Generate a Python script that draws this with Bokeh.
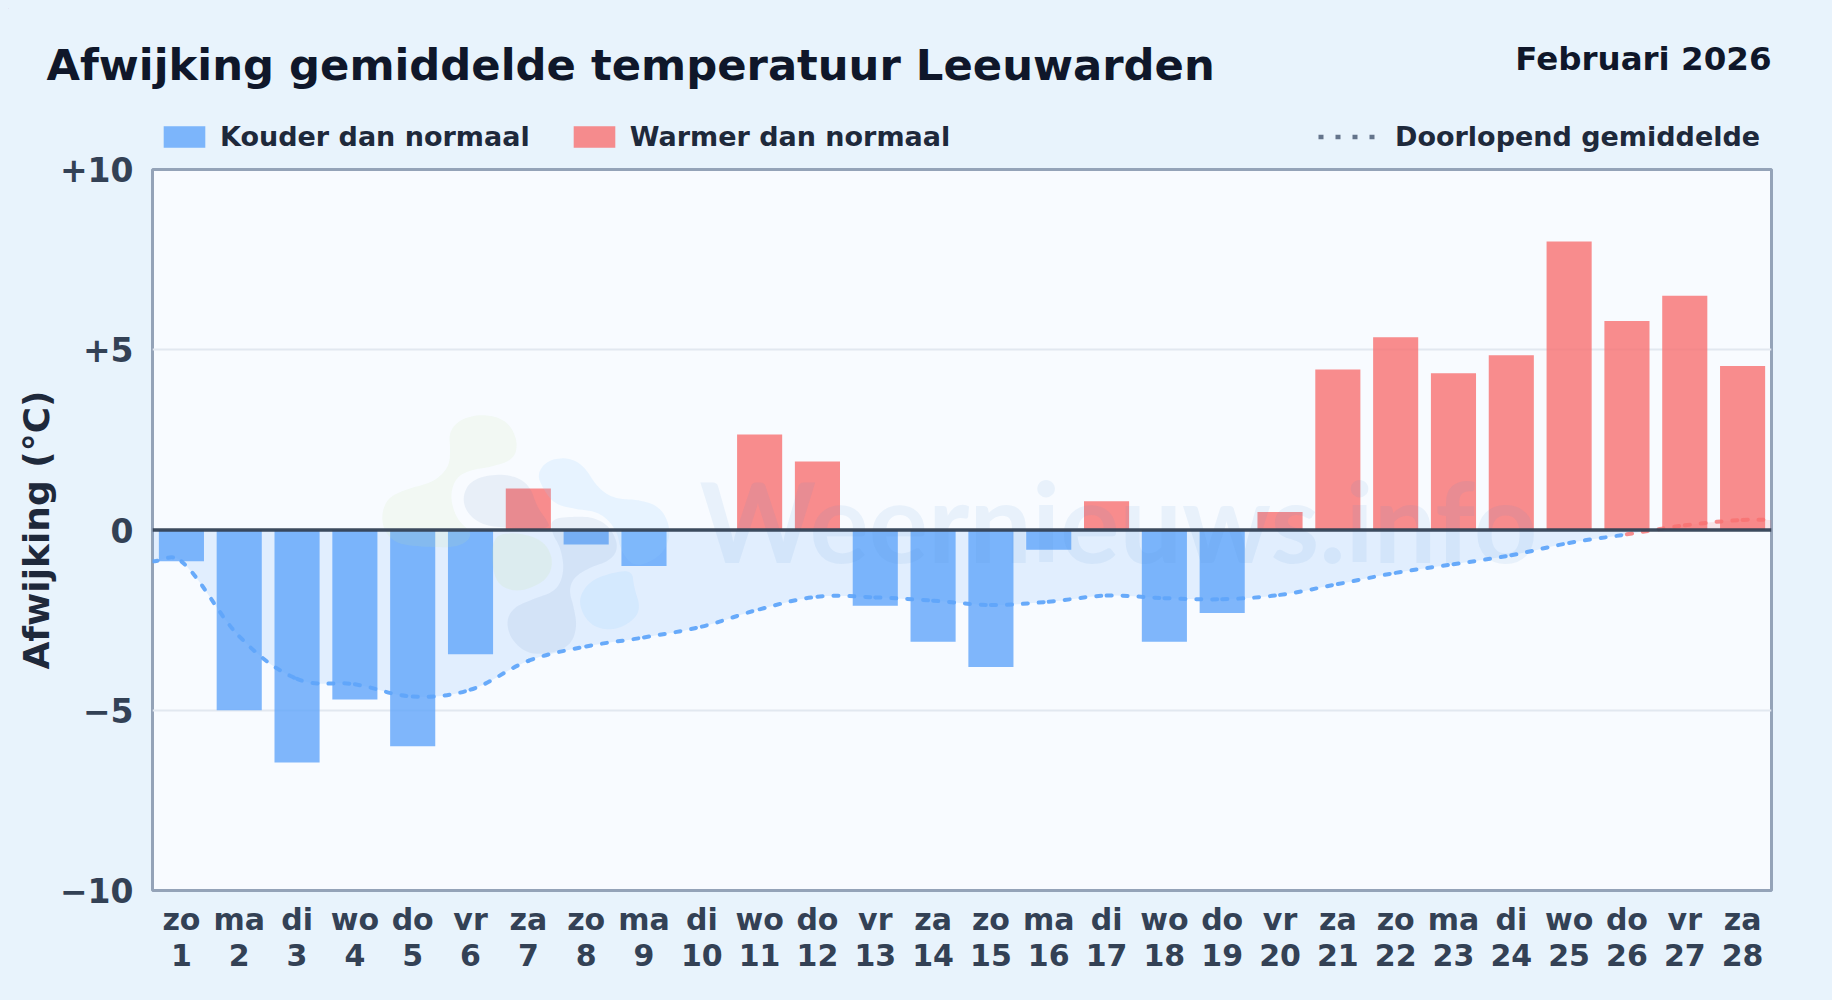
import numpy as np
from bokeh.embed import file_html
from bokeh.layouts import column
from bokeh.resources import INLINE
from bokeh.plotting import figure
from bokeh.models import (ColumnDataSource, FixedTicker, Legend, LegendItem, Range1d, Span)
from bokeh.core.properties import value

# ---- data
days = list(range(1, 29))
weekdays = ["zo","ma","di","wo","do","vr","za","zo","ma","di","wo","do","vr","za","zo","ma","di","wo","do","vr","za","zo","ma","di","wo","do","vr","za"]
deviation = [-0.87,-5.0,-6.45,-4.7,-6.0,-3.45,1.15,-0.4,-1.0,0.0,2.65,1.9,-2.1,-3.1,-3.8,-0.55,0.8,-3.1,-2.3,0.5,4.45,5.35,4.35,4.85,8.0,5.8,6.5,4.55]
running_mean = [-0.87,-2.95,-4.13,-4.28,-4.62,-4.43,-3.63,-3.23,-2.98,-2.68,-2.2,-1.85,-1.87,-1.96,-2.08,-1.99,-1.82,-1.89,-1.92,-1.8,-1.5,-1.19,-0.95,-0.7,-0.36,-0.12,0.13,0.28]
y_ticks = [-10,-5,0,5,10]
y_tick_labels = {-10:"\u221210",-5:"\u22125",0:"0",5:"+5",10:"+10"}

TITLE = "Afwijking gemiddelde temperatuur Leeuwarden"
PERIOD = "Februari 2026"
WATERMARK = "Weernieuws.info"
BG = "#e8f3fc"
FONT = "DejaVu Sans"
COLD, WARM = "#60a5fa", "#f87171"

W = 1816
HEAD_H = 147
OVERLAP = 8
FX0, FX1, FY0, FY1 = 152, 1771, 169, 890
MAIN_TOP = 8 + HEAD_H - OVERLAP
MAIN_H = 992 - MAIN_TOP

# ---- header strip: title, period and legends (range equals page pixels)
head = figure(width=W, height=HEAD_H, output_backend="svg", toolbar_location=None, frame_align=False,
              x_range=Range1d(8, 8+W), y_range=Range1d(8+HEAD_H, 8),
              min_border_left=0, min_border_right=0, min_border_top=0, min_border_bottom=0,
              background_fill_color=None, border_fill_color=None, outline_line_color=None)
head.xaxis.visible = False
head.yaxis.visible = False
head.grid.visible = False
head.text([46], [64], text=[TITLE], text_font=value(FONT), text_font_style="bold", text_font_size="43.3px",
          text_color="#0f172a", text_baseline="alphabetic", text_align="left")
head.text([1771], [58], text=[PERIOD], text_font=value(FONT), text_font_style="bold", text_font_size="32.5px",
          text_color="#0f172a", text_baseline="alphabetic", text_align="right")
h_cold = head.vbar([-100], 1, 0, [1], fill_color=COLD, fill_alpha=0.8, line_color=None)
h_warm = head.vbar([-100], 1, 0, [1], fill_color=WARM, fill_alpha=0.8, line_color=None)
h_mean = head.line([-100, -90], [0, 0], line_color="#64748b", line_width=4.5, line_dash="5 12")
for items, lx, glyph_w, standoff, spacing in (
        ([LegendItem(label="Kouder dan normaal", renderers=[h_cold]),
          LegendItem(label="Warmer dan normaal", renderers=[h_warm])], 158, 52, 10, 38),
        ([LegendItem(label="Doorlopend gemiddelde", renderers=[h_mean])], 1318, 62, 15, 0)):
    head.add_layout(Legend(items=items, orientation="horizontal", location=(lx-8, 3), padding=0, margin=0,
                spacing=spacing, glyph_width=glyph_w, glyph_height=27, label_standoff=standoff,
                background_fill_alpha=0, border_line_alpha=0, label_text_font=FONT,
                label_text_font_size="27px", label_text_font_style="bold", label_text_color="#1e293b",
                label_height=19))

# ---- main chart
p = figure(width=W, height=MAIN_H, output_backend="svg", toolbar_location=None, frame_align=False,
           x_range=Range1d(0.5, 28.5), y_range=Range1d(-10, 10),
           min_border_left=FX0-8, min_border_right=W+8-FX1, min_border_top=FY0-MAIN_TOP, min_border_bottom=992-FY1,
           background_fill_color="#f8fbff", border_fill_color=None, margin=(-OVERLAP, 0, 0, 0))
p.outline_line_color = "#94a3b8"
p.outline_line_width = 3

ax = p.xaxis[0]
ax.ticker = FixedTicker(ticks=days)
ax.major_label_overrides = {d: f"{w}\n{d}" for d, w in zip(days, weekdays)}
ax.major_label_text_font = FONT
ax.major_label_text_font_size = "30px"
ax.major_label_text_font_style = "bold"
ax.major_label_text_color = "#334155"
ax.major_label_text_line_height = 1.05
ax.major_label_standoff = 5
ax.axis_line_color = None
ax.major_tick_line_color = None
ax.minor_tick_line_color = None

ay = p.yaxis[0]
ay.ticker = FixedTicker(ticks=y_ticks)
ay.major_label_overrides = y_tick_labels
ay.major_label_text_font = FONT
ay.major_label_text_font_size = "33px"
ay.major_label_text_font_style = "bold"
ay.major_label_text_color = "#334155"
ay.major_label_standoff = 13
ay.axis_line_color = None
ay.major_tick_line_color = None
ay.minor_tick_line_color = None
ay.axis_label = "Afwijking (\u00b0C)"
ay.axis_label_text_font = FONT
ay.axis_label_text_font_size = "36px"
ay.axis_label_text_font_style = "bold"
ay.axis_label_text_color = "#1e293b"
ay.axis_label_standoff = 0

p.xgrid.visible = False
p.ygrid.ticker = FixedTicker(ticks=[-5, 5])
p.ygrid.grid_line_color = "#e2e8f0"
p.ygrid.grid_line_width = 2

# ---- smooth running mean, as cubic segments between the read values
xs = np.array([0.5] + days + [28.5], dtype=float)
ys = np.array([running_mean[0]] + running_mean + [running_mean[-1]], dtype=float)
SMOOTH = 0.36
prev_i = np.maximum(np.arange(len(xs)) - 1, 0)
next_i = np.minimum(np.arange(len(xs)) + 1, len(xs) - 1)
slope = (ys[next_i] - ys[prev_i]) / (xs[next_i] - xs[prev_i])
dx = np.diff(xs)
seg = dict(x0=xs[:-1], y0=ys[:-1], x1=xs[1:], y1=ys[1:],
           cx0=xs[:-1]+dx*SMOOTH, cy0=ys[:-1]+slope[:-1]*dx*SMOOTH,
           cx1=xs[1:]-dx*SMOOTH, cy1=ys[1:]-slope[1:]*dx*SMOOTH)

t = np.linspace(0, 1, 12)[:, None]
def curve(a, c0, c1, b):
    return ((1-t)**3*a + 3*(1-t)**2*t*c0 + 3*(1-t)*t**2*c1 + t**3*b).T.ravel()
cx = curve(seg["x0"], seg["cx0"], seg["cx1"], seg["x1"])
cy = curve(seg["y0"], seg["cy0"], seg["cy1"], seg["y1"])
p.varea(cx, np.minimum(cy, 0), np.zeros_like(cy), fill_color=COLD, fill_alpha=0.15)
p.varea(cx, np.maximum(cy, 0), np.zeros_like(cy), fill_color=WARM, fill_alpha=0.16)

# ---- bars
cold = ColumnDataSource(dict(x=[d for d, v in zip(days, deviation) if v < 0], top=[v for v in deviation if v < 0]))
warm = ColumnDataSource(dict(x=[d for d, v in zip(days, deviation) if v > 0], top=[v for v in deviation if v > 0]))
p.vbar("x", 0.78, 0, "top", source=cold, fill_color=COLD, fill_alpha=0.8, line_color=None)
p.vbar("x", 0.78, 0, "top", source=warm, fill_color=WARM, fill_alpha=0.8, line_color=None)

# ---- faint logo and site name
def to_data(pts):
    a = np.array(pts, dtype=float)
    for _ in range(3):
        b = np.roll(a, -1, axis=0)
        a = np.column_stack([0.75*a + 0.25*b, 0.25*a + 0.75*b]).reshape(-1, 2)
    px = 360 + a[:, 0]/3
    py = 390 + a[:, 1]/3
    return 0.5 + (px-FX0)/(FX1-FX0)*28, 10 - (py-FY0)/(FY1-FY0)*20

logo = [
 ([(370,70),(440,90),(472,150),(462,205),(400,228),(330,238),(285,262),(268,320),(290,390),(340,430),(300,470),(200,470),(100,460),(60,400),(75,325),(140,295),(220,275),(265,230),(270,180),(265,125),(300,85)], "#c8e6a0", 0.13),
 ([(395,435),(470,425),(550,450),(580,510),(560,570),(480,605),(420,590),(395,540)], "#c8e6a0", 0.16),
 ([(305,320),(330,270),(400,250),(470,258),(510,290),(530,350),(560,390),(570,415),(440,412),(370,405),(320,370)], "#4f7fb5", 0.09),
 ([(570,385),(640,378),(700,380),(750,410),(775,470),(750,510),(690,530),(640,560),(625,600),(640,650),(650,710),(630,765),(570,790),(500,790),(450,745),(437,690),(460,650),(520,625),(590,600),(612,540),(600,470),(575,430)], "#4f7fb5", 0.09),
 ([(530,250),(560,210),(620,200),(670,225),(710,290),(760,325),(840,328),(900,350),(930,410),(920,470),(880,510),(820,530),(780,480),(770,420),(720,365),(640,355),(580,340),(545,290)], "#93d2fd", 0.17),
 ([(655,620),(690,570),(760,545),(815,540),(820,590),(840,650),(820,690),(760,720),(700,710),(665,670)], "#93d2fd", 0.17),
]
for pts, col, alpha in logo:
    lx, ly = to_data(pts)
    p.patch(lx, ly, fill_color=col, fill_alpha=alpha, line_color=None)

wm_x = 0.5 + (699-FX0)/(FX1-FX0)*28
wm_y = 10 - (519-FY0)/(FY1-FY0)*20
p.text([wm_x], [wm_y], text=[WATERMARK], text_font=value("Lato"), text_font_style="bold", text_font_size="111px",
       text_color="#4f8fd0", text_alpha=0.09, text_baseline="alphabetic", text_align="left")

# ---- zero line and running mean on top
p.add_layout(Span(location=0, dimension="width", line_color="#334155", line_width=3.5, line_alpha=0.95))
split = days.index(26) + 1
blue_src = ColumnDataSource({k: v[:split] for k, v in seg.items()})
red_src = ColumnDataSource({k: v[split:] for k, v in seg.items()})
kw = dict(line_width=4, line_dash="5 11", line_cap="round")
p.bezier("x0","y0","x1","y1","cx0","cy0","cx1","cy1", source=blue_src, line_color=COLD, line_alpha=0.95, **kw)
p.bezier("x0","y0","x1","y1","cx0","cy0","cx1","cy1", source=red_src, line_color=WARM, line_alpha=0.8, **kw)

layout = column(head, p, spacing=0)
html = file_html(layout, INLINE).replace("</head>", f"<style>html{{background:{BG};margin:0;padding:0;}}body{{background:{BG};margin:0;padding:8px 0 0 8px;box-sizing:border-box;overflow:hidden;}}</style></head>")
open("out.html", "w").write(html)
